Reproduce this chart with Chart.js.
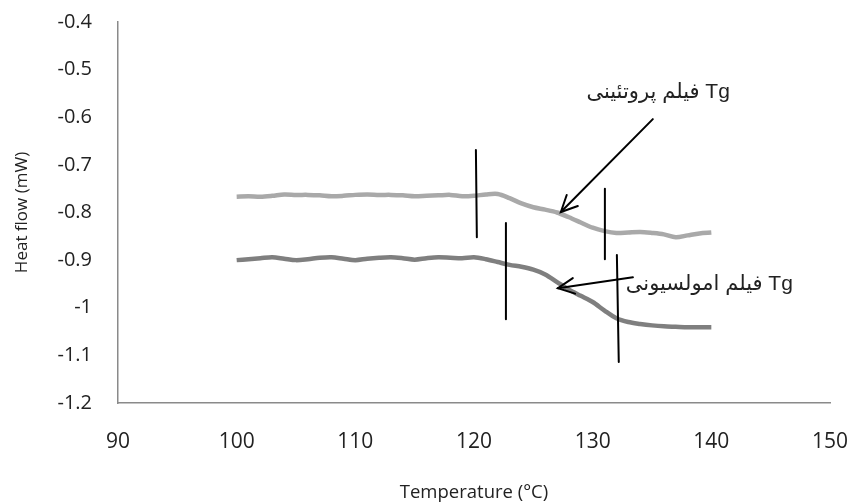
<!DOCTYPE html>
<html>
<head>
<meta charset="utf-8">
<script src="https://cdn.jsdelivr.net/npm/chart.js@4"></script>
<style>
html,body{margin:0;padding:0;background:#fff;}
#wrap{width:852px;height:504px;position:relative;}
</style>
</head>
<body>
<div id="wrap"><canvas id="c" width="852" height="504"></canvas></div>
<script>
// ---- data ----
const temperatures = [100,101,102,103,104,105,106,107,108,109,110,111,112,113,114,115,116,117,118,119,120,121,122,123,124,125,126,127,128,129,130,131,132,133,134,135,136,137,138,139,140];
const proteinFilm = [-0.767,-0.766,-0.767,-0.765,-0.762,-0.763,-0.763,-0.764,-0.766,-0.765,-0.763,-0.762,-0.763,-0.763,-0.764,-0.766,-0.765,-0.764,-0.763,-0.766,-0.765,-0.762,-0.761,-0.770,-0.781,-0.789,-0.794,-0.800,-0.810,-0.821,-0.832,-0.839,-0.843,-0.842,-0.841,-0.843,-0.846,-0.852,-0.848,-0.844,-0.842];
const emulsionFilm = [-0.900,-0.898,-0.896,-0.894,-0.897,-0.900,-0.898,-0.895,-0.894,-0.897,-0.900,-0.897,-0.895,-0.894,-0.896,-0.899,-0.896,-0.894,-0.895,-0.896,-0.894,-0.898,-0.904,-0.910,-0.914,-0.920,-0.930,-0.946,-0.962,-0.975,-0.988,-1.006,-1.022,-1.030,-1.034,-1.037,-1.039,-1.040,-1.041,-1.041,-1.041];
const xTickValues = [90,100,110,120,130,140,150];
const xTickLabels = ['90','100','110','120','130','140','150'];
const yTickValues = [-1.2,-1.1,-1.0,-0.9,-0.8,-0.7,-0.6,-0.5,-0.4];
const yTickLabels = ['-1.2','-1.1','-1','-0.9','-0.8','-0.7','-0.6','-0.5','-0.4'];
const xTitle = 'Temperature (°C)';
const yTitle = 'Heat flow (mW)';
// Tg marker lines, in data units: [x1, y1, x2, y2]
const tgMarkers = [
  [120.16,-0.669,120.24,-0.852],
  [122.69,-0.822,122.69,-1.024],
  [131.03,-0.750,131.03,-0.898],
  [132.04,-0.889,132.20,-1.114]
];
// arrows, in data units: [tailX, tailY, headX, headY]
const arrows = [
  [135.07,-0.604,127.32,-0.799],
  [133.39,-0.936,127.07,-0.959]
];
// annotation texts: [rightX, centerY, text]
const notes = [
  [141.56,-0.547,'فیلم پروتئینی Tg'],
  [146.87,-0.950,'فیلم امولسیونی Tg']
];

const toPoints = (xs, ys) => xs.map((x,i)=>({x:x,y:ys[i]}));

const annotPlugin = {
  id:'annot',
  afterDatasetsDraw(chart){
    const {ctx, scales:{x,y}} = chart;
    ctx.save();
    ctx.strokeStyle = '#000';
    ctx.lineWidth = 2;
    ctx.lineCap = 'round';
    tgMarkers.forEach(m=>{
      ctx.beginPath();
      ctx.moveTo(x.getPixelForValue(m[0]), y.getPixelForValue(m[1]));
      ctx.lineTo(x.getPixelForValue(m[2]), y.getPixelForValue(m[3]));
      ctx.stroke();
    });
    arrows.forEach(a=>{
      const tx=x.getPixelForValue(a[0]), ty=y.getPixelForValue(a[1]);
      const hx=x.getPixelForValue(a[2]), hy=y.getPixelForValue(a[3]);
      ctx.beginPath(); ctx.moveTo(tx,ty); ctx.lineTo(hx,hy); ctx.stroke();
      const ang=Math.atan2(ty-hy, tx-hx), L=18, w=0.45;
      ctx.beginPath();
      ctx.moveTo(hx+L*Math.cos(ang+w), hy+L*Math.sin(ang+w));
      ctx.lineTo(hx,hy);
      ctx.lineTo(hx+L*Math.cos(ang-w), hy+L*Math.sin(ang-w));
      ctx.stroke();
    });
    ctx.fillStyle = '#222';
    ctx.font = "21px 'Liberation Sans', 'DejaVu Sans', sans-serif";
    ctx.textAlign = 'right';
    ctx.textBaseline = 'middle';
    notes.forEach(n=>{
      ctx.fillText(n[2], x.getPixelForValue(n[0]), y.getPixelForValue(n[1]));
    });
    ctx.restore();
  }
};

const fam = "'Open Sans', 'Liberation Sans', sans-serif";

new Chart(document.getElementById('c'), {
  type:'line',
  data:{
    datasets:[
      {label:'Protein film', data:toPoints(temperatures, proteinFilm), borderColor:'#a9a9a9', borderWidth:4.5, pointRadius:0, tension:0.3, fill:false},
      {label:'Emulsion film', data:toPoints(temperatures, emulsionFilm), borderColor:'#7f7f7f', borderWidth:4.5, pointRadius:0, tension:0.3, fill:false}
    ]
  },
  options:{
    responsive:false,
    animation:false,
    devicePixelRatio:1,
    layout:{padding:{top:22,right:22,left:0,bottom:0}},
    plugins:{legend:{display:false}, tooltip:{enabled:false}},
    scales:{
      x:{
        type:'linear', min:90, max:150,
        afterBuildTicks(s){ s.ticks = xTickValues.map(v=>({value:v})); },
        afterFit(s){ s.height = 101; s.paddingLeft = 0; s.paddingRight = 0; },
        ticks:{callback:(v)=>xTickLabels[xTickValues.indexOf(v)], color:'#222', font:{family:fam,size:21}, padding:26, maxRotation:0, autoSkip:false},
        grid:{display:false, drawTicks:false},
        border:{display:true, color:'#8a8a8a', width:1.5},
        title:{display:true, text:xTitle, color:'#222', font:{family:fam,size:18.5}, padding:{top:0,bottom:0}}
      },
      y:{
        type:'linear', min:-1.2, max:-0.4,
        afterBuildTicks(s){ s.ticks = yTickValues.map(v=>({value:v})); },
        afterFit(s){ s.width = 118; s.paddingTop = 0; s.paddingBottom = 0; },
        ticks:{callback:(v)=>yTickLabels[yTickValues.indexOf(v)], color:'#222', font:{family:fam,size:20}, padding:26, autoSkip:false},
        grid:{display:false, drawTicks:false},
        border:{display:true, color:'#8a8a8a', width:1.5},
        title:{display:true, text:yTitle, color:'#222', font:{family:fam,size:17}, padding:{top:12,bottom:0}}
      }
    }
  },
  plugins:[annotPlugin]
});
</script>
</body>
</html>
